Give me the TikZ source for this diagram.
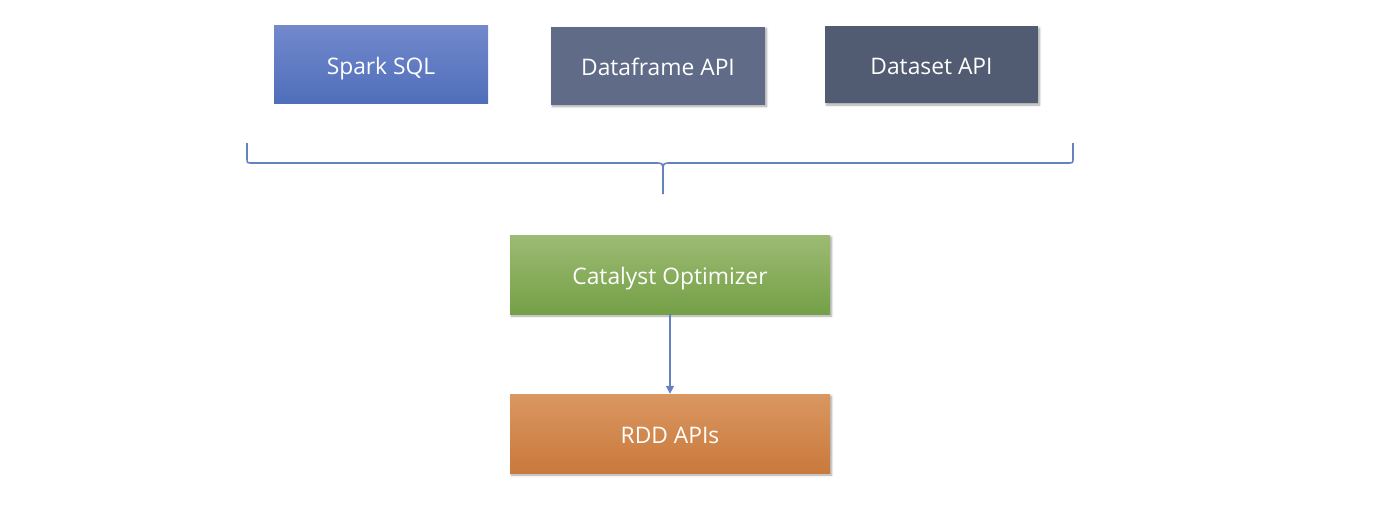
\documentclass[tikz,border=0pt]{standalone}
\usepackage{fontspec}
\setmainfont{Open Sans}
\usetikzlibrary{shadows.blur,arrows.meta}
\definecolor{sqltop}{HTML}{7289CC}
\definecolor{sqlbot}{HTML}{4F6EBA}
\definecolor{dfcol}{HTML}{5F6B87}
\definecolor{dscol}{HTML}{515B71}
\definecolor{cattop}{HTML}{9CBB73}
\definecolor{catbot}{HTML}{75A047}
\definecolor{rddtop}{HTML}{DA9761}
\definecolor{rddbot}{HTML}{C9793C}
\definecolor{linecol}{HTML}{6581C0}
\begin{document}
\begin{tikzpicture}[x=1pt,y=-1pt,
  boxstyle/.style={draw=none,minimum width=214pt,minimum height=78pt,
    text=white,font=\fontsize{22.8}{26}\selectfont,inner sep=0pt,
    text height=22pt,text depth=3pt,
    blur shadow={shadow xshift=1.5pt,shadow yshift=-2pt,shadow blur steps=6,shadow blur radius=2pt,shadow opacity=35}},
  widebox/.style={boxstyle,minimum width=320pt,minimum height=79pt},
  conn/.style={draw=linecol,line width=1.6pt}]
\useasboundingbox (0,0) rectangle (1400,507);
\node[boxstyle,top color=sqltop,bottom color=sqlbot,blur shadow={shadow opacity=0}] (sql) at (381,64.5) {Spark SQL};
\node[boxstyle,fill=dfcol] (df) at (658,65.5) {Dataframe API};
\node[boxstyle,fill=dscol,minimum width=213pt,minimum height=77pt] (ds) at (931.5,64.5) {Dataset API};
\coordinate (bl) at (247,143);
\coordinate (br) at (1073,143);
\coordinate (bt) at (663,194);
\draw[conn,line join=round] (bl) -- (247,158) .. controls (247,163) .. (252,163)
  -- (655,163) .. controls (663,163) .. (663,172) -- (bt);
\draw[conn,line join=round] (br) -- (1073,158) .. controls (1073,163) .. (1068,163)
  -- (671,163) .. controls (663,163) .. (663,172);
\node[widebox,top color=cattop,bottom color=catbot] (cat) at (670,274.5) {Catalyst Optimizer};
\node[widebox,top color=rddtop,bottom color=rddbot] (rdd) at (670,433.5) {RDD APIs};
\draw[draw=linecol,line width=1.4pt,-{Triangle[length=8pt,width=8pt]}] (cat.south) -- (rdd.north);
\end{tikzpicture}
\end{document}
